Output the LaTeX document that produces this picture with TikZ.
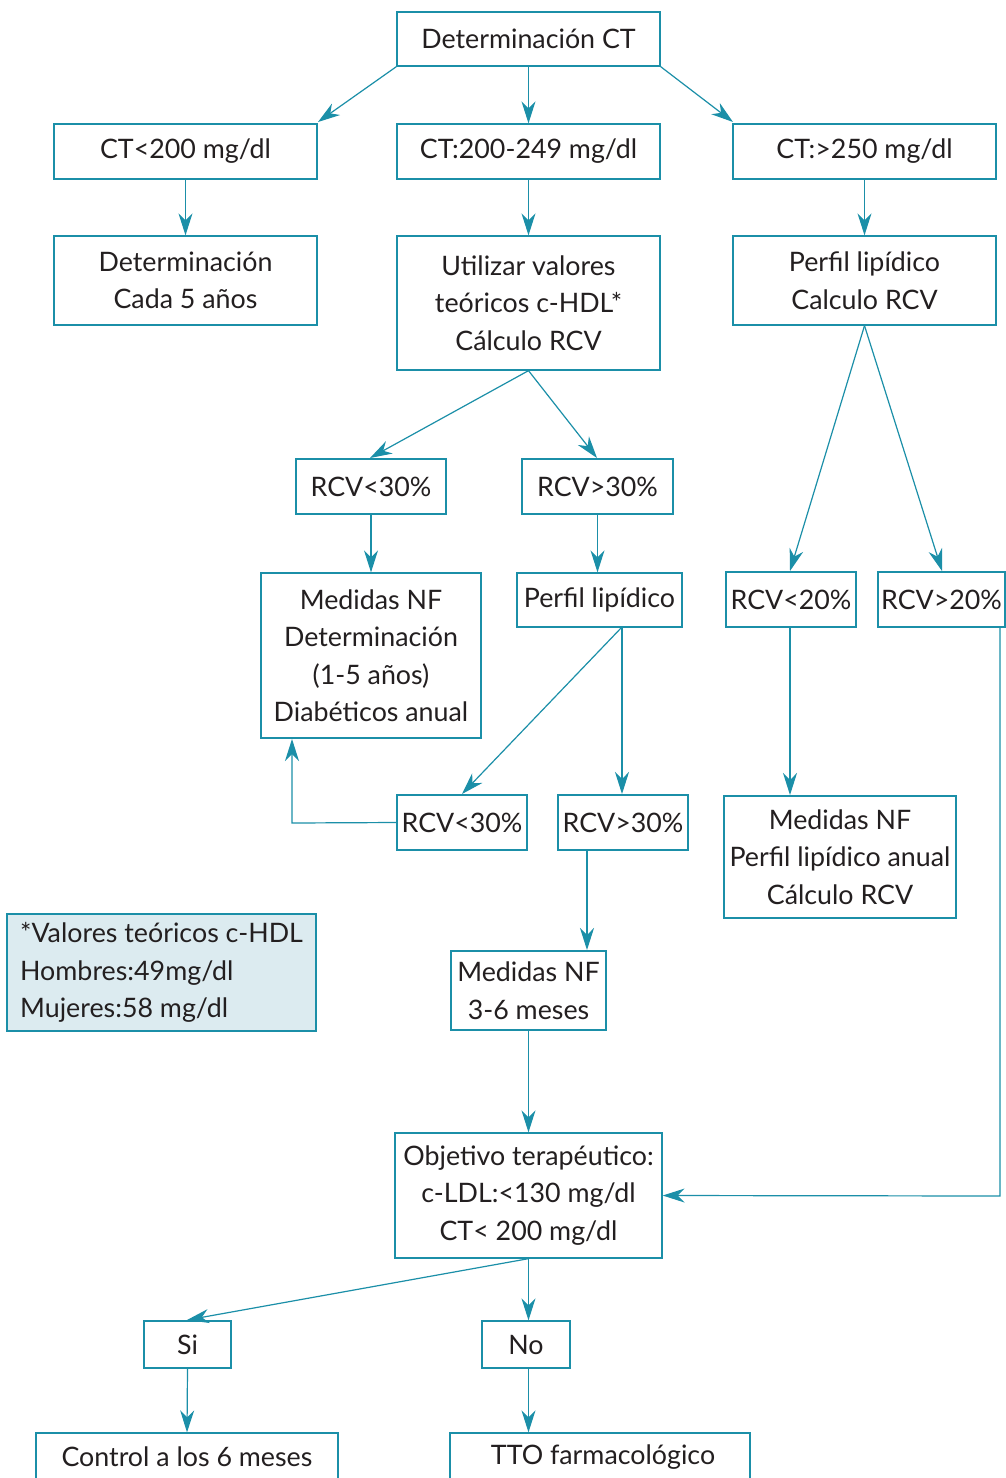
\documentclass[tikz,border=0pt]{standalone}
\usepackage{fontspec}
\setmainfont{Lato}
\usetikzlibrary{arrows.meta}
\definecolor{tealline}{HTML}{1B8FA8}
\definecolor{notefill}{HTML}{DCEBF0}
\definecolor{txt}{HTML}{231F20}
\tikzset{
  box/.style={draw=tealline, line width=1.3pt, inner sep=0pt, text=txt, align=center, font=\fontsize{26.8}{37.5}\selectfont},
  conn/.style={draw=tealline, line width=1.2pt, -{Stealth[length=22pt,width=14pt,inset=7pt]}},
}
\newcommand{\bx}[6]{% name, left, top, right, bottom, text
  \node[box, minimum width={#4-#2}, minimum height={#5-#3}] (#1) at ({(#2+#4)/2},{(#3+#5)/2}) {#6};}
\begin{document}
\begin{tikzpicture}[x=1pt,y=-1pt]
\clip (0,0) rectangle (1006,1478);
\fill[white] (0,0) rectangle (1006,1478);
\bx{A}{397}{12}{660}{66}{Determinación CT}
\bx{B1}{54}{124}{317}{179}{CT<200 mg/dl}
\bx{B2}{397}{124}{660}{179}{CT:200-249 mg/dl}
\bx{B3}{733}{124}{996}{179}{CT:>250 mg/dl}
\bx{C1}{54}{236}{317}{325}{Determinación\\Cada 5 años}
\bx{C2}{397}{236}{660}{370}{Utilizar valores\\teóricos c-HDL*\\Cálculo RCV}
\bx{C3}{733}{236}{996}{325}{Perfil lipídico\\Calculo RCV}
\bx{D1}{296}{459}{446}{514}{RCV<30\%}
\bx{D2}{522}{459}{673}{514}{RCV>30\%}
\bx{E1}{261}{573}{481}{738}{Medidas NF\\Determinación\\(1-5 años)\\Diabéticos anual}
\bx{E2}{517}{573}{682}{627}{Perfil lipídico}
\bx{E3}{726}{572}{856}{627}{RCV<20\%}
\bx{E4}{878}{572}{1005}{627}{RCV>20\%}
\bx{F1}{397}{795}{527}{850}{RCV<30\%}
\bx{F2}{558}{795}{688}{850}{RCV>30\%}
\bx{F3}{724}{796}{956}{918}{Medidas NF\\Perfil lipídico anual\\Cálculo RCV}
\node[box, fill=notefill, minimum width=309, minimum height=117, align=left] (N) at (161.5,972.5) {*Valores teóricos c-HDL\\Hombres:49mg/dl\\Mujeres:58 mg/dl};
\bx{G}{451}{951}{606}{1030}{Medidas NF\\3-6 meses}
\bx{H}{395}{1133}{662}{1258}{Objetivo terapéutico:\\c-LDL:<130 mg/dl\\CT< 200 mg/dl}
\bx{I1}{144}{1321}{231}{1368}{Si}
\bx{I2}{482}{1321}{570}{1368}{No}
\bx{J1}{36}{1433}{338}{1520}{}
\bx{J2}{450}{1433}{750}{1520}{}
\node[text=txt, font=\fontsize{26.8}{37.5}\selectfont] (J1t) at (187,1457) {Control a los 6 meses};
\node[text=txt, font=\fontsize{26.8}{37.5}\selectfont] (J2t) at (603,1457) {TTO farmacológico};
% connectors
\draw[conn] (A.south west) -- (318,122);
\draw[conn] (A.south) -- (B2.north);
\draw[conn] (A.south east) -- (733,122);
\draw[conn] (B1.south) -- (C1.north);
\draw[conn] (B2.south) -- (C2.north);
\draw[conn] (B3.south) -- (C3.north);
\draw[conn] (C2.south) -- (370,458);
\draw[conn] (C2.south) -- (597,458);
\draw[conn] (D1.south) -- (D1.south |- E1.north);
\draw[conn] (D2.south) -- (D2.south |- E2.north);
\draw[conn] (C3.south) -- (790,571);
\draw[conn] (C3.south) -- (942,571);
\draw[conn] (622,627) -- (462,794);
\draw[conn] (622,627) -- (622,794);
\draw[conn] (790,627) -- (790,795);
\draw[conn] (F1.west) -- (292,823) -- (292,739);
\draw[conn] (587,850) -- (587,950);
\draw[conn] (G.south) -- (H.north);
\draw[conn] (1000,627) -- (1000,1196) -- (H.east);
\draw[conn] (H.south) -- (187,1320);
\draw[conn] (H.south) -- (H.south |- I2.north);
\draw[conn] (I1.south) -- (J1.north);
\draw[conn] (H.south |- I2.south) -- (H.south |- J2.north);
\end{tikzpicture}
\end{document}
